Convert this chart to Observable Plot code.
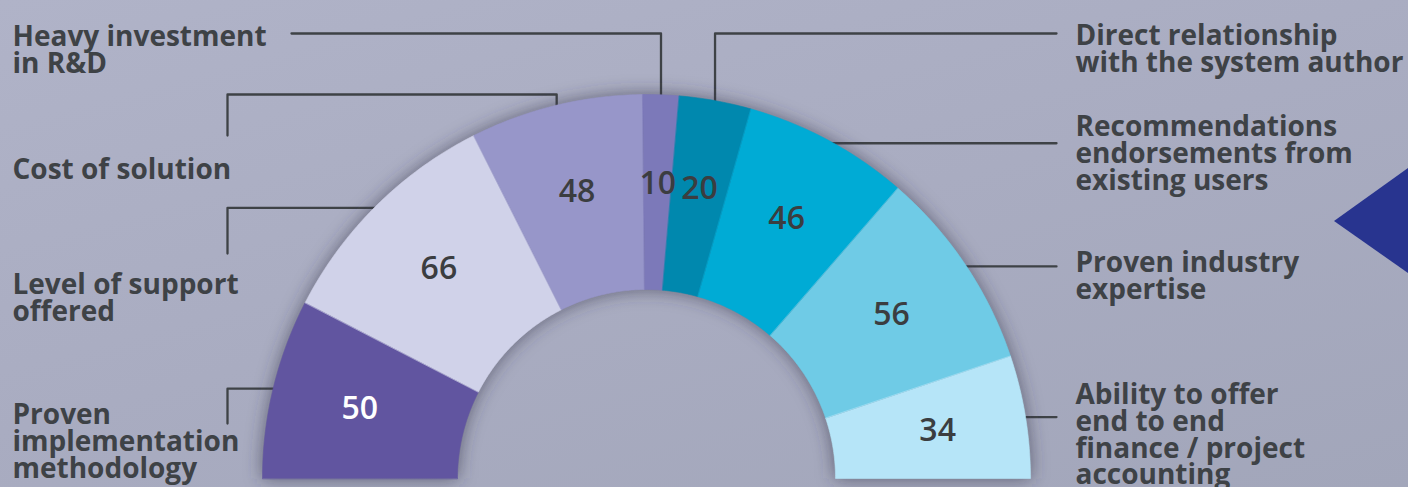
<!DOCTYPE html>
<html><head><meta charset="utf-8">
<script src="https://cdn.jsdelivr.net/npm/d3@7"></script>
<script src="https://cdn.jsdelivr.net/npm/@observablehq/plot@0.6"></script>
<style>
html,body{margin:0;padding:0;width:1408px;height:487px;overflow:hidden;
  background:linear-gradient(165deg,#b0b3c8 0%,#a9acc1 50%,#a2a6ba 100%);}
#chart{position:absolute;left:0;top:0;}
#tri{position:absolute;left:1334px;top:168px;width:74px;height:105px;background:#28348f;
  clip-path:polygon(0 53px,100% 0,100% 100%);}
</style></head><body><div id="chart"></div><div id="tri"></div>
<script>
// ---- data ----
const categories = [
  "Proven\nimplementation\nmethodology",
  "Level of support\noffered",
  "Cost of solution",
  "Heavy investment\nin R&D",
  "Direct relationship\nwith the system author",
  "Recommendations\nendorsements from\nexisting users",
  "Proven industry\nexpertise",
  "Ability to offer\nend to end\nfinance / project\naccounting"
];
const values = [50, 66, 48, 10, 20, 46, 56, 34];
const colors = ["#6155a0", "#d0d2e9", "#9796c9", "#7c79b9", "#0088ae", "#00abd5", "#6fcbe6", "#b6e5f8"];
const valueColors = ["#ffffff", "#3b3d40", "#3b3d40", "#3b3d40", "#3b3d40", "#3b3d40", "#3b3d40", "#3b3d40"];

// ---- layout (pixels) ----
const W = 1408, H = 487, cx = 646, cy = 478, R = 384, r0 = 189, rLab = 295;
const labelPos = [[12,405],[12,275],[12,160],[12,27],[1075,26],[1075,117],[1075,253],[1075,385]];
const routes = [
  [["h",227],["v",423]],
  [["h",227],["v",253]],
  [["v",94],["h",227],["v",135]],
  [["v",33],["h",291]],
  [["v",33],["h",1056]],
  [["h",1056]],
  [["h",1056]],
  [["h",1056]]
];

const total = d3.sum(values);
let acc = 0;
const slices = values.map((v, i) => {
  const a0 = acc / total * Math.PI; acc += v; const a1 = acc / total * Math.PI;
  return {i, v, a0, a1, am: (a0 + a1) / 2, color: colors[i], tc: valueColors[i]};
});
const pt = (a, rad) => [cx - rad * Math.cos(a), cy - rad * Math.sin(a)];

const slicePts = slices.flatMap(s => {
  const n = Math.max(4, Math.ceil((s.a1 - s.a0) / 0.01));
  const pts = [];
  for (let k = 0; k <= n; k++) pts.push(pt(s.a0 + (s.a1 - s.a0) * k / n, R));
  for (let k = n; k >= 0; k--) pts.push(pt(s.a0 + (s.a1 - s.a0) * k / n, r0));
  return pts.map(([x, y]) => ({x, y, key: "s" + s.i, color: s.color}));
});

const valueLabels = slices.map(s => {
  const [x, y] = pt(s.am, rLab);
  return {x, y, text: String(s.v), tc: s.tc};
});

const leaderPts = slices.flatMap(s => {
  let [x, y] = pt(s.am, R - 3);
  const pts = [{x, y, key: "l" + s.i}];
  for (const [dir, val] of routes[s.i]) {
    if (dir === "h") x = val; else y = val;
    pts.push({x, y, key: "l" + s.i});
  }
  return pts;
});

const labels = categories.map((c, i) => ({x: labelPos[i][0], y: labelPos[i][1], text: c}));

const svg = Plot.plot({
  width: W, height: H, margin: 0,
  x: {domain: [0, W], range: [0, W], axis: null},
  y: {domain: [0, H], range: [0, H], axis: null},
  color: {type: "identity"},
  style: {background: "transparent", fontFamily: "Open Sans"},
  marks: [
    Plot.line(leaderPts, {x: "x", y: "y", z: "key", stroke: "#3e4246", strokeWidth: 2.3, curve: "linear"}),
    Plot.line(slicePts, {x: "x", y: "y", z: "key", fill: "#34344a", fillOpacity: 0.65, stroke: "none", curve: "linear-closed"}),
    Plot.line(slicePts, {x: "x", y: "y", z: "key", fill: "color", stroke: "color", strokeWidth: 0.6, curve: "linear-closed"}),
    Plot.text(valueLabels, {x: "x", y: "y", text: "text", fill: "tc", fontSize: 32, fontWeight: 600, fontFamily: "Open Sans"}),
    Plot.text(labels, {x: "x", y: "y", text: "text", textAnchor: "start", lineAnchor: "top", lineHeight: 0.95,
      fontSize: 28, fontWeight: 700, fill: "#3e4246", fontFamily: "Open Sans"})
  ]
});
// soft shadow around the ring via an SVG blur filter on the second line mark
const ns = "http://www.w3.org/2000/svg";
const defs = document.createElementNS(ns, "defs");
defs.innerHTML = '<filter id="ringShadow" x="-20%" y="-20%" width="140%" height="140%"><feGaussianBlur stdDeviation="9"/></filter>';
svg.insertBefore(defs, svg.firstChild);
const lineGroups = svg.querySelectorAll('g[aria-label="line"]');
if (lineGroups[1]) lineGroups[1].setAttribute("filter", "url(#ringShadow)");
document.getElementById("chart").appendChild(svg);
</script></body></html>
